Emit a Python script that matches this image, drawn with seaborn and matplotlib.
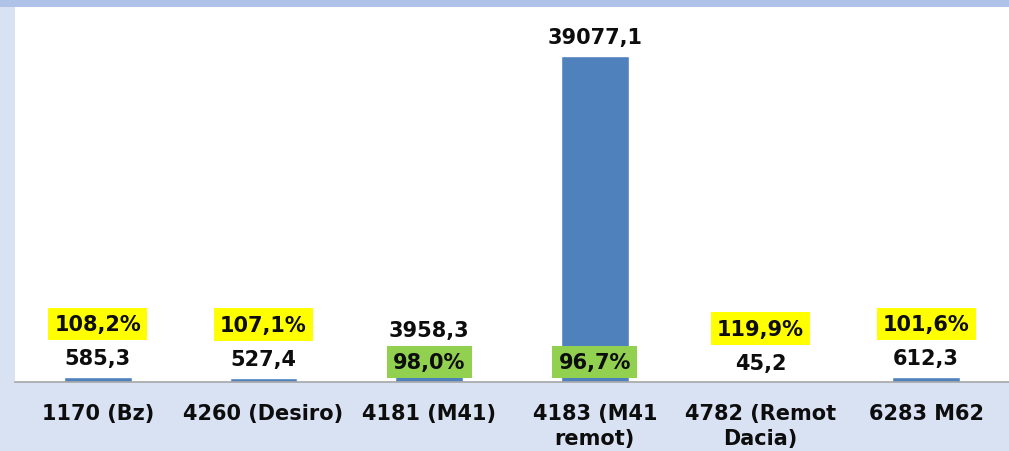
import matplotlib
matplotlib.use("Agg")
import matplotlib.pyplot as plt
import seaborn as sns
import pandas as pd
from matplotlib.patches import Rectangle

categories = ["1170 (Bz)", "4260 (Desiro)", "4181 (M41)", "4183 (M41\nremot)",
              "4782 (Remot\nDacia)", "6283 M62"]
values = [585.3, 527.4, 3958.3, 39077.1, 45.2, 612.3]
percentages = [108.2, 107.1, 98.0, 96.7, 119.9, 101.6]

df = pd.DataFrame({"cat": categories, "val": values})

sns.set_theme(style="white")
plt.rcParams["font.family"] = ["DejaVu Sans"]

fig = plt.figure(figsize=(10.09, 4.52), dpi=100, facecolor="#D9E2F3")
# top darker band
fig.patches.append(Rectangle((0, 1 - 8 / 452), 1, 8 / 452, transform=fig.transFigure,
                             facecolor="#AFC3E8", edgecolor="none", zorder=0))
ax = fig.add_axes([15 / 1009, (452 - 383) / 452, 1 - 15 / 1009, (383 - 8) / 452])
ax.set_facecolor("white")

sns.barplot(data=df, x="cat", y="val", color="#4F81BD", width=0.41, saturation=1,
            ax=ax, zorder=2)
ax.set_xlim(-0.5, len(categories) - 0.5)
ax.set_ylim(0, 45000)
ax.set_xlabel("")
ax.set_ylabel("")
ax.set_yticks([])
for s in ["top", "right", "left"]:
    ax.spines[s].set_visible(False)
ax.spines["bottom"].set_color("#A6A6A6")
ax.spines["bottom"].set_linewidth(1.2)
ax.tick_params(axis="x", length=0, pad=15)
for lbl in ax.get_xticklabels():
    lbl.set_fontsize(15)
    lbl.set_fontweight("bold")
    lbl.set_color("#0d0d0d")
    lbl.set_linespacing(1.35)

def fmt(v, dec=1):
    return f"{v:.{dec}f}".replace(".", ",")

for i, (v, p) in enumerate(zip(values, percentages)):
    ax.annotate(fmt(v), (i, v), xytext=(0, 19 * 0.72), textcoords="offset points",
                ha="center", va="center", fontsize=15, fontweight="bold",
                color="#0d0d0d", zorder=4)
    if p >= 100:
        ax.annotate(fmt(p) + "%", (i, v), xytext=(0, 53 * 0.72), textcoords="offset points",
                    ha="center", va="center", fontsize=15, fontweight="bold",
                    color="#0d0d0d", zorder=5,
                    bbox=dict(boxstyle="square,pad=0.3", fc="#FFFF00", ec="none"))
    else:
        ax.annotate(fmt(p) + "%", (i, 0), xytext=(0, 20 * 0.72), textcoords="offset points",
                    ha="center", va="center", fontsize=15, fontweight="bold",
                    color="#0d0d0d", zorder=5,
                    bbox=dict(boxstyle="square,pad=0.3", fc="#92D050", ec="none"))

fig.savefig("out.png", dpi=100, facecolor=fig.get_facecolor())
